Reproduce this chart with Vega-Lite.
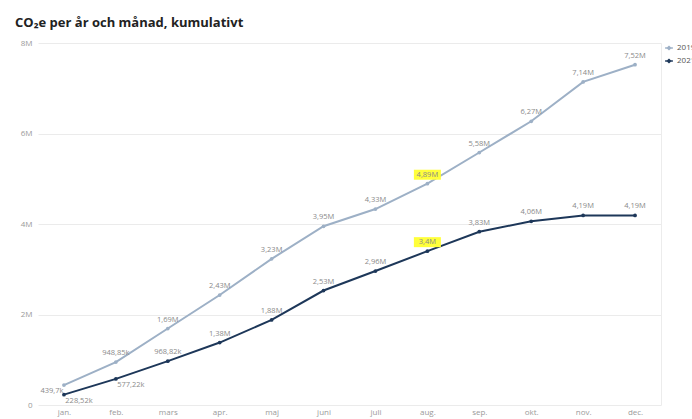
{
  "$schema": "https://vega.github.io/schema/vega-lite/v6.json",
  "width": 623,
  "height": 362,
  "autosize": {"type": "none"},
  "padding": {"left": 38, "top": 43, "right": 31, "bottom": 14},
  "background": "white",
  "title": {
    "text": "CO₂e per år och månad, kumulativt",
    "anchor": "start",
    "frame": "group",
    "dx": -23,
    "offset": 9,
    "font": "Open Sans",
    "fontSize": 13,
    "fontWeight": "bold",
    "color": "#222222"
  },
  "config": {
    "locale": {"number": {"decimal": ",", "thousands": " ", "grouping": [3], "currency": ["", " kr"]}},
    "view": {"stroke": null},
    "font": "Open Sans",
    "axis": {"labelColor": "#9a9a9a", "labelFontSize": 8, "labelFont": "Open Sans", "title": null}
  },
  "data": {
    "values": [
      {"month": "jan.", "year": "2019", "value": 439700},
      {"month": "feb.", "year": "2019", "value": 948850},
      {"month": "mars", "year": "2019", "value": 1690000},
      {"month": "apr.", "year": "2019", "value": 2430000},
      {"month": "maj", "year": "2019", "value": 3230000},
      {"month": "juni", "year": "2019", "value": 3950000},
      {"month": "juli", "year": "2019", "value": 4330000},
      {"month": "aug.", "year": "2019", "value": 4890000},
      {"month": "sep.", "year": "2019", "value": 5580000},
      {"month": "okt.", "year": "2019", "value": 6270000},
      {"month": "nov.", "year": "2019", "value": 7140000},
      {"month": "dec.", "year": "2019", "value": 7520000},
      {"month": "jan.", "year": "2021", "value": 228520},
      {"month": "feb.", "year": "2021", "value": 577220},
      {"month": "mars", "year": "2021", "value": 968820},
      {"month": "apr.", "year": "2021", "value": 1380000},
      {"month": "maj", "year": "2021", "value": 1880000},
      {"month": "juni", "year": "2021", "value": 2530000},
      {"month": "juli", "year": "2021", "value": 2960000},
      {"month": "aug.", "year": "2021", "value": 3400000},
      {"month": "sep.", "year": "2021", "value": 3830000},
      {"month": "okt.", "year": "2021", "value": 4060000},
      {"month": "nov.", "year": "2021", "value": 4190000},
      {"month": "dec.", "year": "2021", "value": 4190000}
    ]
  },
  "encoding": {
    "x": {
      "field": "month",
      "type": "nominal",
      "sort": ["jan.", "feb.", "mars", "apr.", "maj", "juni", "juli", "aug.", "sep.", "okt.", "nov.", "dec."],
      "scale": {"type": "point", "padding": 0.5},
      "axis": {"labelAngle": 0, "ticks": false, "domain": false, "grid": false, "labelPadding": 3}
    },
    "color": {
      "field": "year",
      "type": "nominal",
      "scale": {"domain": ["2019", "2021"], "range": ["#9db0c6", "#1d3759"]},
      "legend": {
        "orient": "none",
        "legendX": 626,
        "legendY": 0,
        "title": null,
        "labelFontSize": 8,
        "labelColor": "#555555",
        "symbolType": "M-1,0L1,0M-0.4,0L0,-0.4L0.4,0L0,0.4Z",
        "symbolSize": 60,
        "symbolStrokeWidth": 1.5,
        "rowPadding": 3,
        "labelOffset": 3
      }
    }
  },
  "layer": [
    {
      "mark": {"type": "line", "strokeWidth": 2, "point": {"filled": true, "size": 14}},
      "encoding": {
        "y": {
          "field": "value",
          "type": "quantitative",
          "scale": {"domain": [0, 8000000], "nice": false},
          "axis": {"orient": "left", "values": [0, 2000000, 4000000, 6000000, 8000000], "format": "~s", "labelExpr": "datum.value == 0 ? '0' : datum.label", "ticks": false, "domain": false, "gridColor": "#ebebeb", "labelPadding": 6}
        }
      }
    },
    {
      "transform": [{"filter": "(datum.month == 'aug.')"}],
      "mark": {"type": "point", "shape": "M-1.35,-0.5H1.35V0.5H-1.35Z", "size": 400, "filled": true, "opacity": 1, "yOffset": -9},
      "encoding": {
        "y": {"field": "value", "type": "quantitative", "axis": null},
        "color": {"value": "#ffff3a"}
      }
    },
    {
      "transform": [{"filter": "!(datum.month == 'jan.') && !(datum.month == 'feb.' && datum.year == '2021')"}],
      "mark": {"type": "text", "dy": -9, "baseline": "middle", "fontSize": 7.5},
      "encoding": {
        "y": {"field": "value", "type": "quantitative", "axis": null},
        "text": {"field": "value", "type": "quantitative", "format": "~s"},
        "color": {"value": "#8a8a8a"}
      }
    },
    {
      "transform": [{"filter": "datum.month == 'jan.' && datum.year == '2019'"}],
      "mark": {"type": "text", "dx": -12, "dy": 6, "baseline": "middle", "fontSize": 7.5},
      "encoding": {
        "y": {"field": "value", "type": "quantitative", "axis": null},
        "text": {"field": "value", "type": "quantitative", "format": "~s"},
        "color": {"value": "#8a8a8a"}
      }
    },
    {
      "transform": [{"filter": "(datum.month == 'jan.' || datum.month == 'feb.') && datum.year == '2021'"}],
      "mark": {"type": "text", "dx": 15, "dy": 6, "baseline": "middle", "fontSize": 7.5},
      "encoding": {
        "text": {"field": "value", "type": "quantitative", "format": "~s"},
        "color": {"value": "#8a8a8a"},
        "y": {
          "field": "value",
          "type": "quantitative",
          "axis": {"orient": "right", "labels": false, "ticks": false, "grid": false, "domain": true, "domainColor": "#ececec"}
        }
      }
    }
  ],
  "resolve": {"axis": {"y": "independent"}}
}
